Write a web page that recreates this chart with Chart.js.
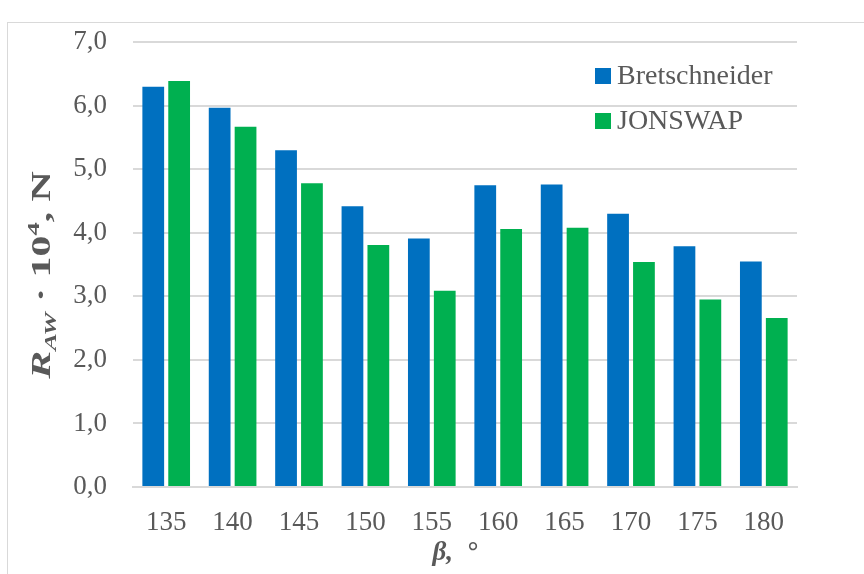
<!DOCTYPE html>
<html>
<head>
<meta charset="utf-8">
<title>Bretschneider vs JONSWAP</title>
<script src="https://cdn.jsdelivr.net/npm/chart.js@4.4.0/dist/chart.umd.min.js"></script>
<style>
    body { margin: 0; background: #fff; overflow: hidden; }
    #frame { position: absolute; left: 7px; top: 22px; width: 900px; height: 600px; border: 1px solid #d9d9d9; }
    #wrap { position: absolute; left: 0; top: 0; width: 864px; height: 574px; }
</style>
</head>
<body>
<div id="frame"></div>
<div id="wrap"><canvas id="myChart"></canvas></div>
<script>
//--- Data
var angles = ['135', '140', '145', '150', '155', '160', '165', '170', '175', '180'];
var bretschneider = [6.30, 5.97, 5.30, 4.42, 3.91, 4.75, 4.76, 4.30, 3.79, 3.55];
var jonswap = [6.39, 5.67, 4.78, 3.81, 3.09, 4.06, 4.08, 3.54, 2.95, 2.66];
var seriesNames = ['Bretschneider', 'JONSWAP'];
var yTicks = [0, 1, 2, 3, 4, 5, 6, 7];

var serif = "'Liberation Serif', 'Times New Roman', serif";
var textGray = '#595959';

//--- y axis title with subscript / superscript (stretched along the text like the original)
var yTitlePlugin = {
    id: 'yTitle',
    afterDraw: function (chart) {
        var ctx = chart.ctx;
        var parts = [
            { t: 'R', f: 'italic bold 27px ' + serif, dy: 0 },
            { t: 'AW', f: 'italic bold 17px ' + serif, dy: 6 },
            { t: ' \u00b7 10', f: 'bold 27px ' + serif, dy: 0 },
            { t: '4', f: 'bold 17px ' + serif, dy: -11 },
            { t: ', N', f: 'bold 27px ' + serif, dy: 0 }
        ];
        var total = 0;
        parts.forEach(function (p) {
            ctx.font = p.f;
            p.w = ctx.measureText(p.t).width;
            total += p.w;
        });
        ctx.save();
        ctx.translate(50, 275);
        ctx.rotate(-Math.PI / 2);
        ctx.scale(1.55, 1);
        ctx.fillStyle = textGray;
        ctx.textBaseline = 'alphabetic';
        var x = -total / 2;
        parts.forEach(function (p) {
            ctx.font = p.f;
            ctx.fillText(p.t, x, p.dy);
            x += p.w;
        });
        ctx.restore();
    }
};

//--- legend drawn inside the plot area
var legendPlugin = {
    id: 'innerLegend',
    afterDraw: function (chart) {
        var ctx = chart.ctx;
        ctx.save();
        ctx.font = '28px ' + serif;
        ctx.textBaseline = 'middle';
        chart.data.datasets.forEach(function (ds, i) {
            var y = 76 + i * 45;
            ctx.fillStyle = ds.backgroundColor;
            ctx.fillRect(595, y - 8, 16, 16);
            ctx.fillStyle = textGray;
            ctx.fillText(ds.label, 617, y + 1);
        });
        ctx.restore();
    }
};

var ctx = document.getElementById('myChart');
var myChart = new Chart(ctx, {
    type: 'bar',
    data: {
        labels: angles,
        datasets: [{
            label: seriesNames[0],
            data: bretschneider,
            backgroundColor: '#0070c0'
        }, {
            label: seriesNames[1],
            data: jonswap,
            backgroundColor: '#00b050'
        }]
    },
    options: {
        responsive: true,
        maintainAspectRatio: false,
        animation: false,
        categoryPercentage: 0.78,
        barPercentage: 0.84,
        layout: { padding: { top: 42, right: 67, left: 0, bottom: 0 } },
        plugins: {
            legend: { display: false },
            tooltip: { enabled: false }
        },
        scales: {
            x: {
                grid: { display: false, drawTicks: false },
                border: { display: true, color: '#d9d9d9', width: 2 },
                ticks: { color: textGray, padding: 20, font: { family: serif, size: 27 } },
                title: {
                    display: true,
                    text: '\u03b2,  \u00b0   ',
                    color: textGray,
                    padding: { top: 0, bottom: 5 },
                    font: { family: serif, size: 27, weight: 'bold', style: 'italic' }
                },
                afterFit: function (scale) { scale.height = 87; }
            },
            y: {
                min: 0,
                max: 7,
                afterBuildTicks: function (scale) {
                    scale.ticks = yTicks.map(function (v) { return { value: v }; });
                },
                grid: { color: '#d9d9d9', lineWidth: 2, drawTicks: false },
                border: { display: false },
                ticks: {
                    color: textGray,
                    padding: 26,
                    font: { family: serif, size: 27 },
                    callback: function (v) { return v.toFixed(1).replace('.', ','); }
                },
                afterFit: function (scale) { scale.width = 133; }
            }
        }
    },
    plugins: [yTitlePlugin, legendPlugin]
});
</script>
</body>
</html>
